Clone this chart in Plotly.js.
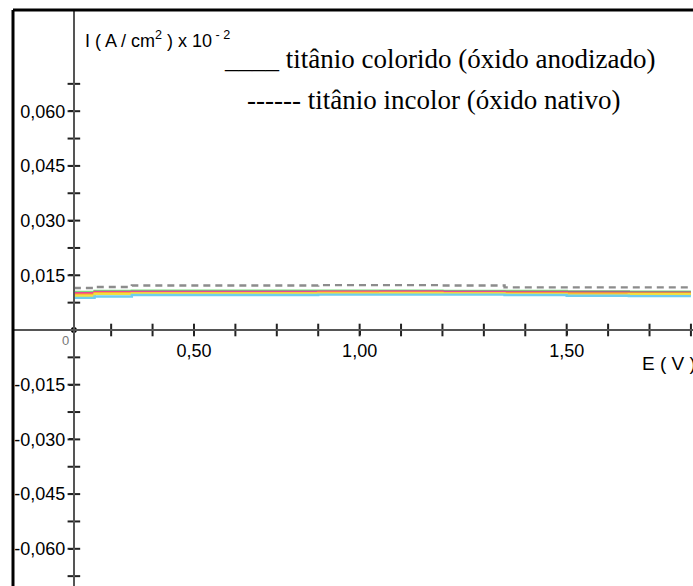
<!DOCTYPE html>
<html>
<head>
<meta charset="utf-8">
<script src="https://cdn.plot.ly/plotly-3.0.1.min.js"></script>
<style>html,body{margin:0;padding:0;background:#fff;}#chart{width:693px;height:586px;}</style>
</head>
<body>
<div id="chart"></div>
<script>
// ---- data ----
const potential = [0.31, 0.36, 0.45, 0.6, 0.75, 0.9, 1.05, 1.2, 1.35, 1.5, 1.65, 1.8];
const incolorNative = [0.0115,0.0118,0.0122,0.0122,0.0122,0.0123,0.0123,0.0122,0.0117,0.0117,0.0117,0.0117];
const coloredGreen   = [0.0104,0.0107,0.0108,0.0108,0.0108,0.0108,0.0108,0.0107,0.0107,0.0106,0.0105,0.0105];
const coloredPurple  = [0.0101,0.0104,0.0105,0.0105,0.0105,0.0105,0.0106,0.0105,0.0104,0.0104,0.0103,0.0103];
const coloredMagenta = [0.0100,0.0103,0.0103,0.0103,0.0103,0.0104,0.0104,0.0103,0.0102,0.0099,0.0098,0.0098];
const coloredOrange  = [0.0097,0.0101,0.0101,0.0101,0.0101,0.0102,0.0102,0.0101,0.0101,0.0100,0.0100,0.0100];
const coloredYellow  = [0.0094,0.0099,0.0100,0.0100,0.0100,0.0100,0.0101,0.0100,0.0098,0.0097,0.0098,0.0098];
const coloredCyan    = [0.0088,0.0092,0.0096,0.0096,0.0096,0.0097,0.0097,0.0097,0.0096,0.0094,0.0093,0.0093];

// all tick marks, and the labelled ones
const xTickVals  = [0.4,0.5,0.6,0.7,0.8,0.9,1.0,1.1,1.2,1.3,1.4,1.5,1.6,1.7,1.8];
const xLabelVals = [0.6, 1.0, 1.5];
const xLabelText = ['0,50', '1,00', '1,50'];
const yTickVals  = [-0.0675,-0.06,-0.0525,-0.045,-0.0375,-0.03,-0.0225,-0.015,-0.0075,0.0075,0.015,0.0225,0.03,0.0375,0.045,0.0525,0.06,0.0675];
const yLabelVals = [-0.06, -0.045, -0.03, -0.015, 0.015, 0.03, 0.045, 0.06];
const yLabelText = ['-0,060', '-0,045', '-0,030', '-0,015', '0,015', '0,030', '0,045', '0,060'];

const xRange = [0.163, 1.805];
const yRange = [-0.0702, 0.08775];
const yAxisAt = 0.31;   // E value where the current axis crosses

// ---- traces ----
const mk = (y, color, dash) => ({
  x: potential, y: y, type: 'scatter', mode: 'lines',
  line: {color: color, width: 2.4, dash: dash || 'solid', shape: 'hv'},
  hoverinfo: 'skip', showlegend: false
});
const traces = [
  mk(incolorNative, '#8c8c8c', '7px,5px'),
  mk(coloredGreen, '#7ddc7d'),
  mk(coloredPurple, '#9a6a8e'),
  mk(coloredMagenta, '#ff3d9a'),
  mk(coloredOrange, '#ff9d2e'),
  mk(coloredYellow, '#f2e040'),
  mk(coloredCyan, '#6fcdf0'),
  // crossing tick marks
  {x: xTickVals, y: xTickVals.map(() => 0), type: 'scatter', mode: 'markers',
   marker: {symbol: 'line-ns', size: 9, line: {width: 2, color: '#222'}}, hoverinfo: 'skip', showlegend: false, cliponaxis: false},
  {x: yTickVals.map(() => yAxisAt), y: yTickVals, type: 'scatter', mode: 'markers',
   marker: {symbol: 'line-ew', size: 9, line: {width: 2, color: '#222'}}, hoverinfo: 'skip', showlegend: false, cliponaxis: false},
  {x: [yAxisAt], y: [0], type: 'scatter', mode: 'markers',
   marker: {size: 6, color: '#000'}, hoverinfo: 'skip', showlegend: false, cliponaxis: false}
];

const sans = 'Arial, Liberation Sans, sans-serif';
const serif = 'Times New Roman, Liberation Serif, DejaVu Serif, serif';
const tickFont = {family: sans, size: 18, color: '#000'};
const layout = {
  width: 693, height: 586,
  margin: {l: 13, r: 0, t: 10, b: 0, pad: 0},
  paper_bgcolor: '#fff', plot_bgcolor: '#fff',
  showlegend: false,
  xaxis: {
    range: xRange, anchor: 'free', position: (0 - yRange[0]) / (yRange[1] - yRange[0]),
    showline: true, linecolor: '#555', linewidth: 2,
    showgrid: false, zeroline: false,
    tickmode: 'array', tickvals: xLabelVals, ticktext: xLabelText,
    ticks: 'outside', ticklen: 4, tickwidth: 2, tickcolor: '#222',
    tickfont: tickFont, automargin: false
  },
  yaxis: {
    range: yRange, anchor: 'free', position: (yAxisAt - xRange[0]) / (xRange[1] - xRange[0]),
    showline: true, linecolor: '#555', linewidth: 2,
    showgrid: false, zeroline: false,
    tickmode: 'array', tickvals: yLabelVals, ticktext: yLabelText,
    ticks: 'outside', ticklen: 4, tickwidth: 2, tickcolor: '#222',
    tickfont: tickFont, automargin: false
  },
  shapes: [
    {type: 'line', xref: 'paper', yref: 'paper', x0: 0, x1: 0, y0: -0.02, y1: 1, line: {color: '#000', width: 3}},
    {type: 'line', xref: 'paper', yref: 'paper', x0: 0, x1: 1.02, y0: 1, y1: 1, line: {color: '#000', width: 3}}
  ],
  annotations: [
    {xref: 'paper', yref: 'paper', x: 0.103, y: 0.948, xanchor: 'left', yanchor: 'middle', showarrow: false,
     text: 'I ( A / cm<sup>2</sup> ) x 10<sup> - 2</sup>', font: {family: sans, size: 18, color: '#000'}},
    {xref: 'paper', yref: 'paper', x: 0.307, y: 0.915, xanchor: 'left', yanchor: 'middle', showarrow: false,
     text: '____ titânio colorido (óxido anodizado)', font: {family: serif, size: 27, color: '#000'}},
    {xref: 'paper', yref: 'paper', x: 0.341, y: 0.843, xanchor: 'left', yanchor: 'middle', showarrow: false,
     text: '------ titânio incolor (óxido nativo)', font: {family: serif, size: 27, color: '#000'}},
    {xref: 'paper', yref: 'paper', x: 0.922, y: 0.387, xanchor: 'left', yanchor: 'middle', showarrow: false,
     text: 'E ( V )', font: {family: sans, size: 19, color: '#000'}},
    {xref: 'paper', yref: 'paper', x: 0.0765, y: 0.427, xanchor: 'center', yanchor: 'middle', showarrow: false,
     text: '0', font: {family: sans, size: 13, color: '#777'}}
  ]
};

Plotly.newPlot('chart', traces, layout, {staticPlot: true, displayModeBar: false});
</script>
</body>
</html>
